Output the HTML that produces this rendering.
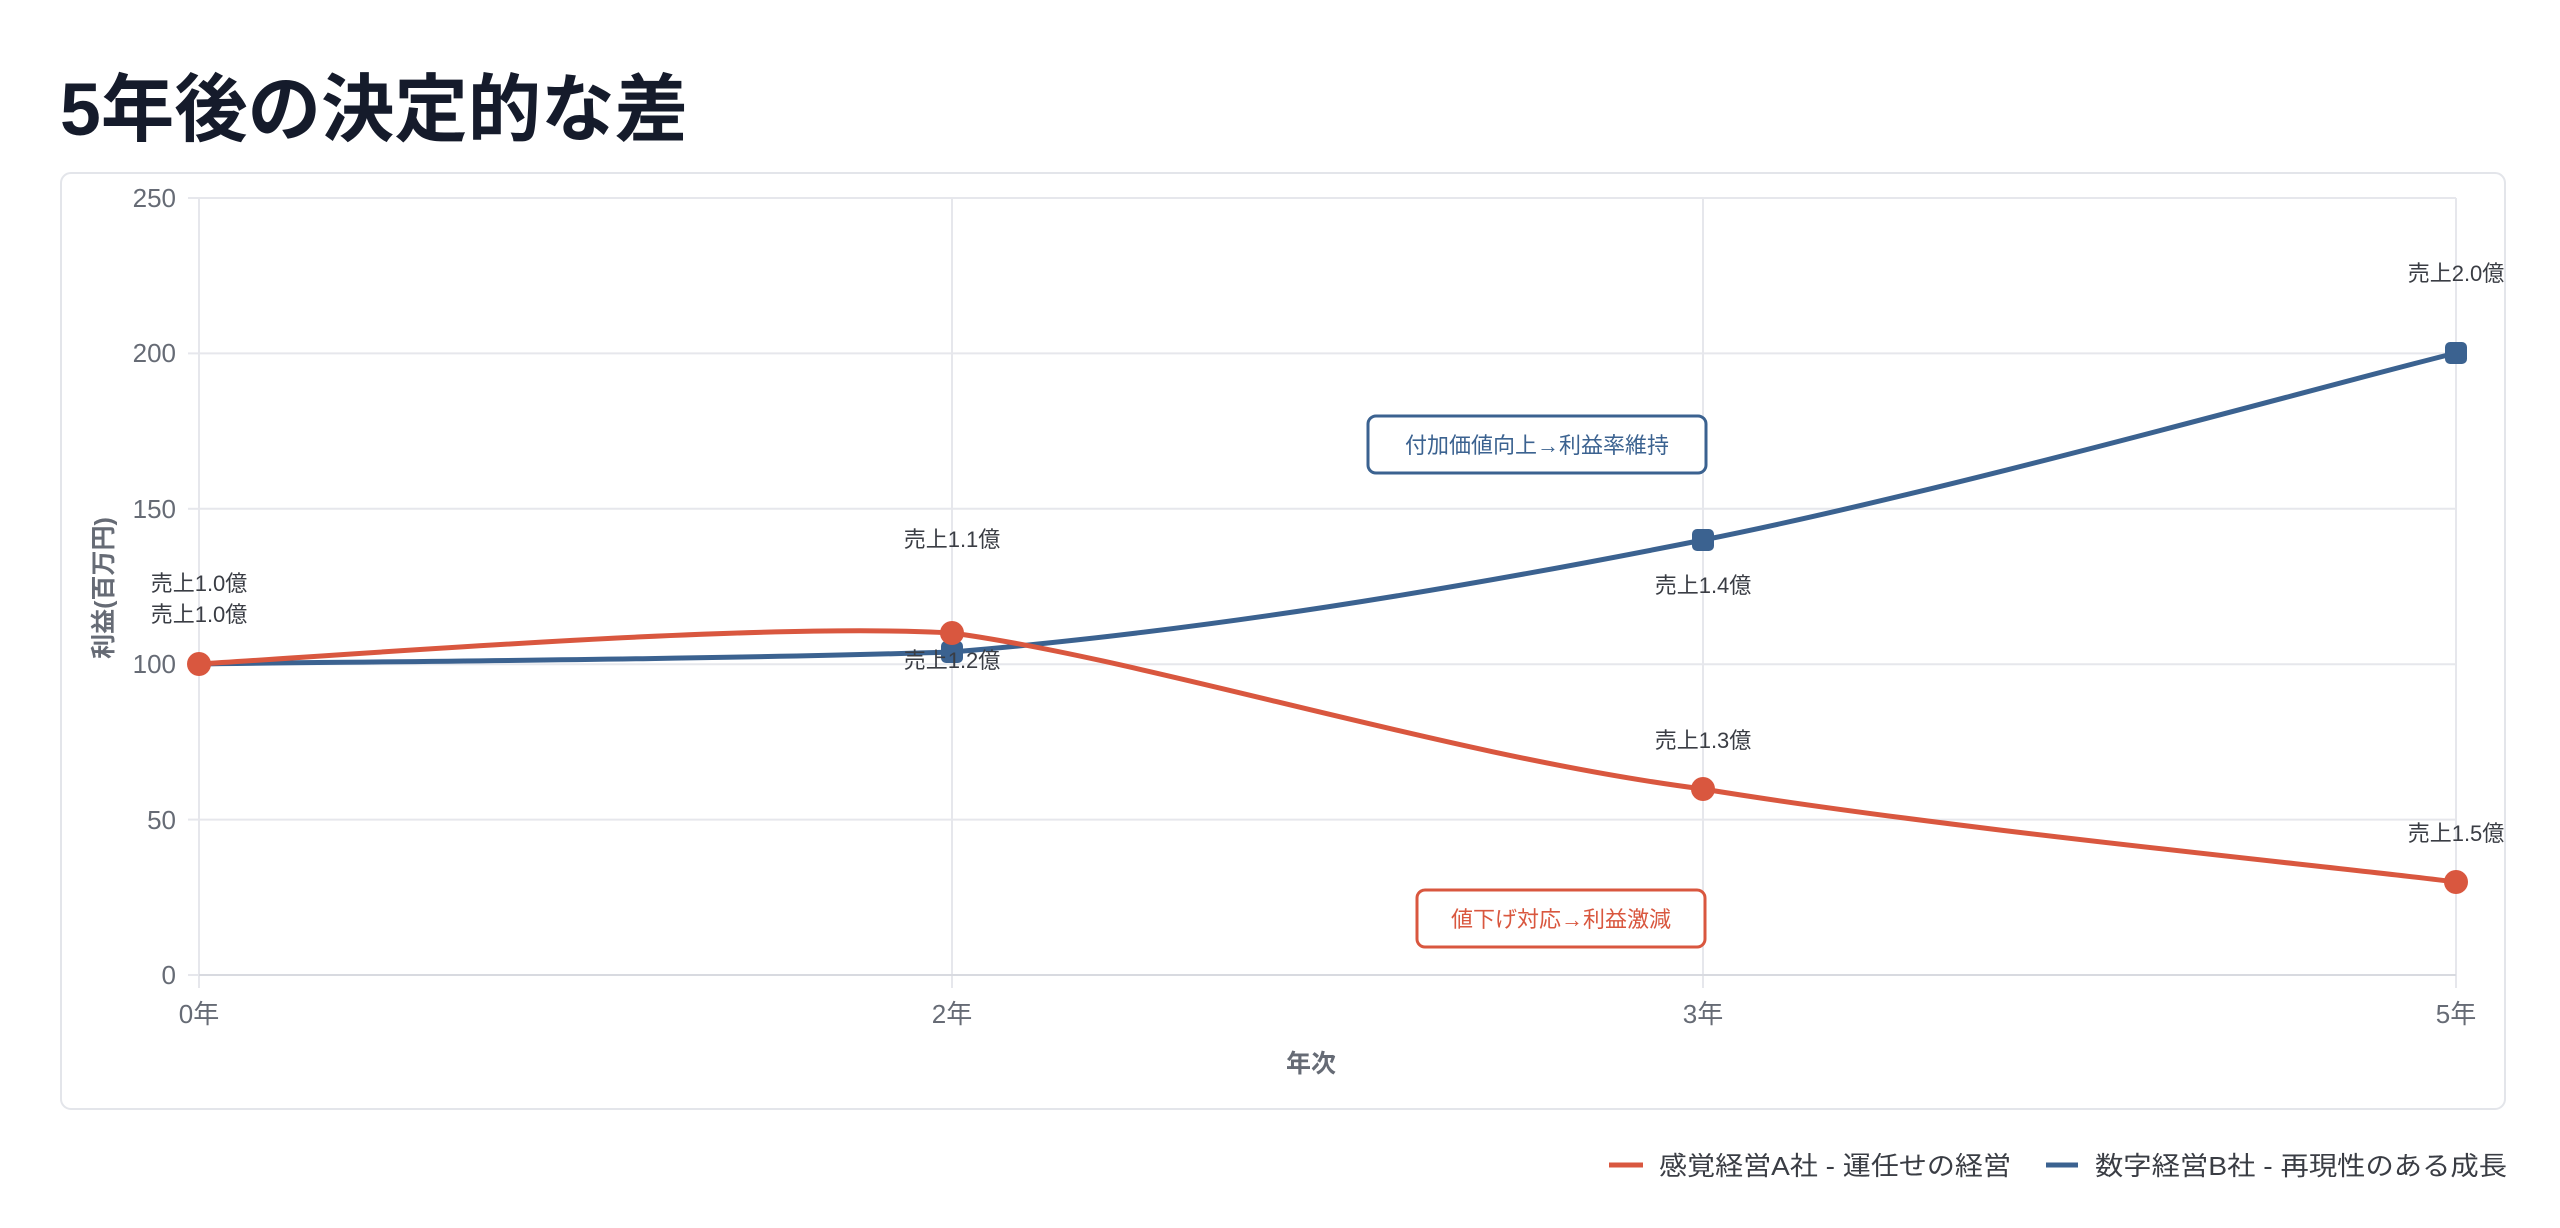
<!DOCTYPE html>
<html><head><meta charset="utf-8"><style>
html,body{margin:0;padding:0;background:#fff;width:2560px;height:1228px;overflow:hidden}
svg{display:block}
text{font-family:"Liberation Sans","Noto Sans CJK JP",sans-serif}
</style></head><body>
<svg width="2560" height="1228" viewBox="0 0 2560 1228">
<text x="60" y="135" font-size="74" font-weight="700" fill="#151b2b" textLength="628" lengthAdjust="spacingAndGlyphs">5年後の決定的な差</text>
<rect x="61" y="173" width="2444" height="936" rx="10" fill="#fff" stroke="#e3e5ea" stroke-width="2"/>
<g stroke="#e6e7ec" stroke-width="2">
<line x1="199" y1="198" x2="2456" y2="198"/>
<line x1="199" y1="353.4" x2="2456" y2="353.4"/>
<line x1="199" y1="508.8" x2="2456" y2="508.8"/>
<line x1="199" y1="664.2" x2="2456" y2="664.2"/>
<line x1="199" y1="819.6" x2="2456" y2="819.6"/>
<line x1="199" y1="198" x2="199" y2="988"/>
<line x1="952" y1="198" x2="952" y2="988"/>
<line x1="1703" y1="198" x2="1703" y2="988"/>
<line x1="2456" y1="198" x2="2456" y2="988"/>
<line x1="188" y1="198" x2="199" y2="198"/><line x1="188" y1="353.4" x2="199" y2="353.4"/><line x1="188" y1="508.8" x2="199" y2="508.8"/><line x1="188" y1="664.2" x2="199" y2="664.2"/><line x1="188" y1="819.6" x2="199" y2="819.6"/><line x1="188" y1="975" x2="199" y2="975"/>
</g>
<line x1="199" y1="975" x2="2456" y2="975" stroke="#d8dae0" stroke-width="2"/>
<g font-size="26" fill="#666b75" text-anchor="end">
<text x="176" y="207">250</text><text x="176" y="362">200</text><text x="176" y="518">150</text><text x="176" y="673">100</text><text x="176" y="829">50</text><text x="176" y="984">0</text>
</g>
<g font-size="26" fill="#666b75" text-anchor="middle">
<text x="199" y="1023">0年</text><text x="952" y="1023">2年</text><text x="1703" y="1023">3年</text><text x="2456" y="1023">5年</text>
</g>
<text x="1311" y="1072" font-size="25" font-weight="700" fill="#666b75" text-anchor="middle">年次</text>
<text transform="translate(112,588) rotate(-90)" font-size="25" font-weight="700" fill="#666b75" text-anchor="middle">利益(百万円)</text>
<path d="M199,664 C324,662 701,660 952,652 C1203,631 1452,590 1703,540 C1954,490 2330,384 2456,353" fill="none" stroke="#3b6290" stroke-width="5"/>
<path d="M199,664 C350,655 760,622 952,633 C1150,660 1452,757 1703,789 C1954,830 2330,866 2456,882" fill="none" stroke="#d9573f" stroke-width="5"/>
<g fill="#3b6290">
<rect x="941" y="641" width="22" height="22" rx="5"/>
<rect x="1692" y="529" width="22" height="22" rx="5"/>
<rect x="2445" y="342" width="22" height="22" rx="5"/>
</g>
<g fill="#d9573f">
<circle cx="199" cy="664" r="12"/><circle cx="952" cy="633" r="12"/><circle cx="1703" cy="789" r="12"/><circle cx="2456" cy="882" r="12"/>
</g>
<g font-size="22" fill="#3a3d44" text-anchor="middle">
<text x="199" y="591">売上1.0億</text>
<text x="199" y="622">売上1.0億</text>
<text x="952" y="547">売上1.1億</text>
<text x="952" y="668">売上1.2億</text>
<text x="1703" y="593">売上1.4億</text>
<text x="1703" y="748">売上1.3億</text>
<text x="2456" y="281">売上2.0億</text>
<text x="2456" y="841">売上1.5億</text>
</g>
<rect x="1368" y="416" width="338" height="57" rx="8" fill="#fff" stroke="#3b6290" stroke-width="3"/>
<text x="1537" y="453" font-size="22" fill="#3b6290" text-anchor="middle">付加価値向上→利益率維持</text>
<rect x="1417" y="890" width="288" height="57" rx="8" fill="#fff" stroke="#d9573f" stroke-width="3"/>
<text x="1561" y="927" font-size="22" fill="#d9573f" text-anchor="middle">値下げ対応→利益激減</text>
<line x1="1609" y1="1165" x2="1643" y2="1165" stroke="#d9573f" stroke-width="5"/>
<text x="1659" y="1175" font-size="26" fill="#3a3d44" textLength="352" lengthAdjust="spacingAndGlyphs">感覚経営A社 - 運任せの経営</text>
<line x1="2046" y1="1165" x2="2078" y2="1165" stroke="#3b6290" stroke-width="5"/>
<text x="2095" y="1175" font-size="26" fill="#3a3d44" textLength="412" lengthAdjust="spacingAndGlyphs">数字経営B社 - 再現性のある成長</text>
</svg>
</body></html>
